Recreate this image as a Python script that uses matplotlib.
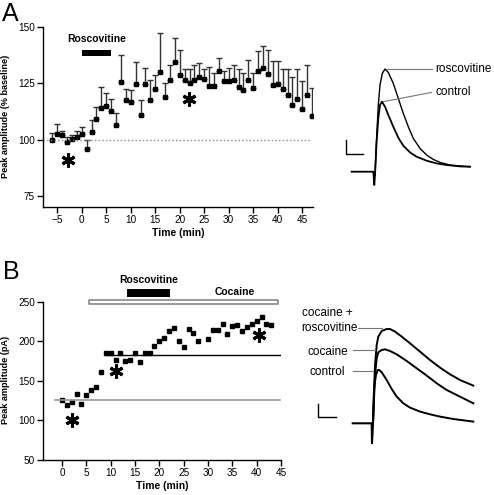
import numpy as np
import matplotlib
matplotlib.use("Agg")
import matplotlib.pyplot as plt

plt.rcParams['font.family'] = ['Liberation Sans', 'DejaVu Sans']

# ---- Panel A: peak amplitude (% baseline), mean with upper SEM ----
time_a = list(range(-6, 48))
amp_a = [100, 102.6, 101.8, 99, 100.3, 100.9, 102.6,
         95.6, 103.4, 109.1, 114, 115, 112.8, 106.3, 125.7, 117.6, 116.8,
         124.7, 111, 124.7, 117.4, 122.4, 130, 118.8, 126.5, 134.4, 128.8,
         126.5, 125, 126.5, 127.6, 127, 123.8, 123.8, 130.6, 126.2, 126.2,
         126.5, 123.2, 122, 126.5, 123, 130.3, 132, 129.1, 124.1, 124.8,
         122.6, 119.6, 115.2, 118.2, 113.7, 119.9, 110.3]
top_a = [103, 106.8, 104, 101, 102, 103.8, 105.6,
         99.7, 108.5, 114.4, 123.2, 120.6, 118, 112, 137.4, 122.6, 121.8,
         134.4, 117.6, 131.8, 126.5, 128.5, 147.4, 125.3, 133.2, 145.3, 140,
         131.5, 131.5, 133.2, 133.8, 131.5, 132.4, 129.7, 136.2, 130.6, 132,
         133.2, 131.5, 129.4, 135.3, 129.4, 139.4, 141.5, 140, 135, 135,
         131.5, 131.5, 127.6, 131.5, 126.2, 133, 122.9]
rosc_a = (0, 6)
stars_a_x = [-2.85, 21.9]
stars_a_y = [90.8, 117.9]

# ---- Panel B: single-cell peak amplitude (pA) ----
time_b = list(range(0, 29)) + list(range(30, 44))
amp_b = [126.2, 119.1, 122.9, 133, 120.4, 132.5, 138.5, 142.3, 160.8, 185.6,
         185.6, 176.4, 185.6, 175.5, 176.7, 185.2, 174.2, 185.2, 185.6, 194.4,
         200.7, 204.1, 213.4, 216.4, 200.7, 193.2, 215.9, 210.4, 200,
         202.9, 213.8, 214.1, 221.8, 208.8, 219.7, 220.1, 212.6, 217.6, 221.4,
         225.2, 230.7, 221.8, 221.0]
base_control = 125.5
base_cocaine = 182.3
cocaine_b = (5.6, 44.4)
rosc_b = (13.4, 22.1)
stars_b_x = [2.0, 11.1, 40.4]
stars_b_y = [100.6, 162.9, 208.3]

# ---- example traces (arbitrary units) ----
tr_a_base_t = [-21.7, 0, 1, 1.7]
tr_a_base_y = [0, 0, -13.3, -3]
tr_a_rosc_t = [1.7, 3.3, 5, 6.7, 9, 11.7, 15, 20, 25, 30, 35, 40, 46.7, 53.3,
               60, 66.7, 76.7, 86.7, 96.7]
tr_a_rosc_y = [-3, 33.3, 66.7, 86.7, 98.3, 102.7, 99.3, 88.3, 73.3, 58.3, 45,
               33.3, 23.3, 16.7, 12.3, 9.3, 6.7, 5.7, 5]
tr_a_ctrl_t = [1.7, 3.3, 5, 6.7, 8.7, 11.7, 15, 20, 25, 30, 36.7, 43.3, 53.3,
               63.3, 73.3, 86.7, 96.7]
tr_a_ctrl_y = [-3, 30, 53.3, 66.7, 70, 65, 56.7, 45, 34, 26, 19.3, 15, 11,
               8.3, 6.7, 5.3, 5]

tr_b_base_t = [-19.3, -0.3, 0, 1]
tr_b_base_y = [0, 0, -20, 0]
tr_b_rosc_t = [1, 3, 4.7, 6.3, 9.7, 14.7, 18, 23, 29.7, 38, 48, 58, 68, 78,
               88, 101.3]
tr_b_rosc_y = [0, 58.3, 78.3, 86.7, 92.3, 94.3, 94.3, 91.7, 86.7, 80, 71.7,
               63.3, 55.7, 49, 43.3, 37.7]
tr_b_coc_t = [1, 3, 4.7, 6.3, 9.7, 13, 18, 24.7, 34.7, 44.7, 54.7, 64.7,
              74.7, 84.7, 101.3]
tr_b_coc_y = [0, 48.3, 65, 71, 73.3, 74, 72.3, 69, 62.3, 55, 47.7, 40, 33.3,
              28.3, 20]
tr_b_ctrl_t = [1, 2, 4, 5.7, 7.3, 9.7, 14.7, 19.7, 24.7, 31.3, 38, 48, 58,
               68, 81.3, 101.3]
tr_b_ctrl_y = [0, 35, 48.3, 53.3, 53.3, 51, 43.3, 34.3, 26.7, 20, 15.7, 11.7,
               9, 6.7, 4.3, 1.7]

W, H = 494, 495
fig = plt.figure(figsize=(W / 100, H / 100), dpi=100)


def box(x0, x1, y0, y1):
    # pixel box -> figure fraction
    return [x0 / W, 1 - y1 / H, (x1 - x0) / W, (y1 - y0) / H]


def style(ax):
    for s in ['top', 'right']:
        ax.spines[s].set_visible(False)
    for s in ['left', 'bottom']:
        ax.spines[s].set_linewidth(1.0)
    ax.tick_params(direction='out', length=4, width=1, labelsize=7.2, pad=2)


star = (6, 2, 0)

# Panel A
axa = fig.add_axes(box(43, 313, 27, 207))
style(axa)
err = np.array(top_a) - np.array(amp_a)
axa.errorbar(time_a, amp_a, yerr=[np.zeros(len(err)), err], fmt='none',
             ecolor='#333333', elinewidth=1, capsize=2, capthick=1)
axa.plot(time_a, amp_a, 's', color='black', ms=3.5)
axa.plot([-8, 46.5], [100, 100], ':', color='#888888', lw=1)
axa.plot(stars_a_x, stars_a_y, marker=star, ls='none', color='black', ms=10, mew=2.2)
axa.fill_between(rosc_a, 137, 140, color='black', lw=0)
axa.text(np.mean(rosc_a), 144.7, 'Roscovitine', ha='center', va='center',
         fontsize=7.5, fontweight='bold')
axa.set_xlim(-7.9, 47.2)
axa.set_ylim(70, 150)
axa.set_xticks(range(-5, 46, 5))
axa.set_yticks([75, 100, 125, 150])
axa.set_xlabel('Time (min)', fontsize=7.5, fontweight='bold', labelpad=2)
axa.set_ylabel('Peak amplitude (% baseline)', fontsize=6.6, fontweight='bold')
axa.yaxis.set_label_coords(-0.122, 0.505)
fig.text(2 / W, 1 - 14 / H, 'A', fontsize=18, va='center', ha='left')

# Panel B
axb = fig.add_axes(box(43.3, 281, 301.7, 460))
style(axb)
axb.plot(time_b, amp_b, 's', color='black', ms=3.5)
axb.plot([-1.4, 44.8], [base_control] * 2, color='#999999', lw=1.2)
axb.plot([9.0, 44.8], [base_cocaine] * 2, color='black', lw=1)
axb.plot(stars_b_x, stars_b_y, marker=star, ls='none', color='black', ms=10, mew=2.2)
axb.fill_between(cocaine_b, 247, 252, facecolor='white', edgecolor='#888888',
                 lw=1.2, clip_on=False)
axb.fill_between(rosc_b, 256, 266.4, color='black', lw=0, clip_on=False)
axb.text(np.mean(rosc_b), 277.4, 'Roscovitine', ha='center', va='center',
         fontsize=7.5, fontweight='bold', clip_on=False)
axb.text(35.5, 262.6, 'Cocaine', ha='center', va='center',
         fontsize=7.5, fontweight='bold', clip_on=False)
axb.set_xlim(-3.84, 45)
axb.set_ylim(50, 250)
axb.set_xticks(range(0, 46, 5))
axb.set_yticks(range(50, 251, 50))
axb.set_xlabel('Time (min)', fontsize=7.5, fontweight='bold', labelpad=2)
axb.set_ylabel('Peak amplitude (pA)', fontsize=6.6, fontweight='bold')
axb.yaxis.set_label_coords(-0.14, 0.505)
fig.text(3 / W, 1 - 272 / H, 'B', fontsize=18, va='center', ha='left')

# Trace inset A
ta = fig.add_axes(box(340, 490, 55, 195))
ta.set_xlim(-33.3, 116.7)
ta.set_ylim(-23.3, 116.7)
ta.axis('off')
ta.plot(tr_a_base_t, tr_a_base_y, color='black', lw=1.3)
ta.plot(tr_a_rosc_t, tr_a_rosc_y, color='black', lw=1.0)
ta.plot(tr_a_ctrl_t, tr_a_ctrl_y, color='black', lw=1.3)
ta.plot([-27.3, -27.3, -10], [31.7, 17.3, 17.3], color='black', lw=1)
ta.plot([13.3, 58.3], [102.7, 102.7], color='#777777', lw=0.8)
ta.plot([10, 58.3], [70, 79.3], color='#777777', lw=0.8)
ta.text(61.7, 102.7, 'roscovitine', fontsize=8.5, va='center', ha='left', clip_on=False)
ta.text(61.7, 79.3, 'control', fontsize=8.5, va='center', ha='left', clip_on=False)

# Trace inset B
tb = fig.add_axes(box(290, 494, 300, 460))
tb.set_xlim(-82, 122)
tb.set_ylim(-36.7, 123.3)
tb.axis('off')
tb.plot(tr_b_base_t, tr_b_base_y, color='black', lw=1.5)
tb.plot(tr_b_rosc_t, tr_b_rosc_y, color='black', lw=1.4)
tb.plot(tr_b_coc_t, tr_b_coc_y, color='black', lw=1.4)
tb.plot(tr_b_ctrl_t, tr_b_ctrl_y, color='black', lw=1.4)
tb.plot([-54.3, -54.3, -36.3], [19.3, 6.6, 6.6], color='black', lw=1)
tb.plot([-13.7, 9.7], [95, 95], color='#777777', lw=0.8)
tb.plot([-18.7, 3], [73.3, 73.3], color='#777777', lw=0.8)
tb.plot([-19, 1.3], [52.3, 52.3], color='#777777', lw=0.8)
tb.text(-70.3, 103, 'cocaine +\nroscovitine', fontsize=8.5, va='center', ha='left',
        linespacing=1.3)
tb.text(-44.5, 71.6, 'cocaine', fontsize=8.5, va='center', ha='center')
tb.text(-44.5, 51.6, 'control', fontsize=8.5, va='center', ha='center')

fig.savefig('out.png', dpi=100)
